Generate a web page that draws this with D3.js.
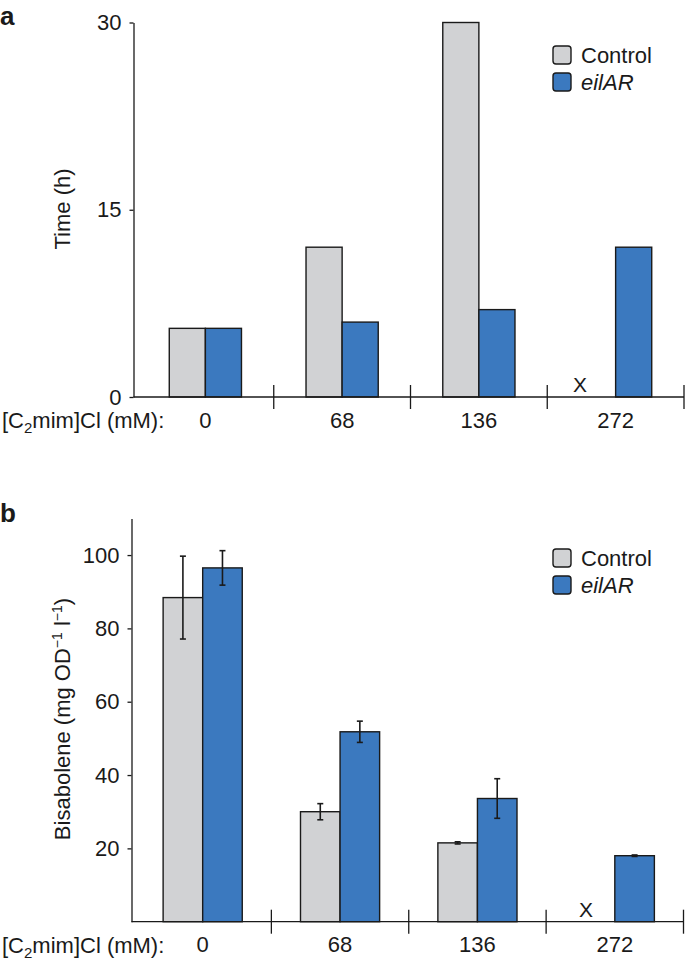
<!DOCTYPE html>
<html>
<head>
<meta charset="utf-8">
<script src="https://cdn.jsdelivr.net/npm/d3@7"></script>
<style>
  body { margin: 0; background: #fff; }
  svg text { font-family: "Liberation Sans", Arial, Helvetica, sans-serif; fill: #1a1a1a; }
</style>
</head>
<body>
<div id="chart"></div>
<script>
// categories and series
const concentrations = ["0", "68", "136", "272"];
const seriesNames = ["Control", "eilAR"];
const seriesColors = ["#d1d2d4", "#3b79bf"];

// panel a: time (h)
const timeControl = [5.5, 12, 30, null];
const timeEilAR = [5.5, 6, 7, 12];
const timeTicks = [0, 15, 30];

// panel b: bisabolene (mg OD-1 l-1) with error bars
const bisControl = [88.4, 30, 21.5, null];
const bisControlErr = [11.3, 2.2, 0.3, null];
const bisEilAR = [96.5, 51.8, 33.6, 18];
const bisEilARErr = [4.7, 2.9, 5.4, 0.2];
const bisTicks = [20, 40, 60, 80, 100];

const width = 685, height = 969;
const ink = "#1a1a1a";

const svg = d3.select("#chart")
  .append("svg")
    .attr("width", width)
    .attr("height", height);

function drawPanel(cfg) {
  const g = svg.append("g");

  const x = d3.scaleBand()
    .domain(concentrations)
    .range(cfg.xRange);
  const y = d3.scaleLinear()
    .domain(cfg.yDomain)
    .range(cfg.yRange);
  const bw = x.bandwidth();
  const barW = bw * cfg.barFrac;
  const xSub = d3.scaleBand()
    .domain(seriesNames)
    .range([bw / 2 - barW, bw / 2 + barW]);
  const color = d3.scaleOrdinal().domain(seriesNames).range(seriesColors);

  const rows = [];
  concentrations.forEach((c, i) => {
    rows.push({cat: c, key: "Control", value: cfg.control[i], err: cfg.controlErr ? cfg.controlErr[i] : null});
    rows.push({cat: c, key: "eilAR", value: cfg.eil[i], err: cfg.eilErr ? cfg.eilErr[i] : null});
  });
  const y0 = y(0);

  // bars
  g.append("g")
    .selectAll("rect")
    .data(rows.filter(d => d.value != null))
    .join("rect")
      .attr("x", d => x(d.cat) + xSub(d.key))
      .attr("y", d => y(d.value))
      .attr("width", xSub.bandwidth())
      .attr("height", d => y0 - y(d.value))
      .attr("fill", d => color(d.key))
      .attr("stroke", ink)
      .attr("stroke-width", 1.4);

  // error bars
  const errs = g.append("g")
    .selectAll("g")
    .data(rows.filter(d => d.value != null && d.err != null))
    .join("g")
      .attr("transform", d => `translate(${x(d.cat) + xSub(d.key) + xSub.bandwidth() / 2},0)`)
      .attr("stroke", ink)
      .attr("stroke-width", 1.6);
  errs.append("line")
    .attr("y1", d => y(d.value + d.err))
    .attr("y2", d => y(d.value - d.err));
  errs.append("line")
    .attr("x1", -3).attr("x2", 3)
    .attr("y1", d => y(d.value + d.err)).attr("y2", d => y(d.value + d.err));
  errs.append("line")
    .attr("x1", -3).attr("x2", 3)
    .attr("y1", d => y(d.value - d.err)).attr("y2", d => y(d.value - d.err));

  // missing value marker
  g.append("g")
    .selectAll("text")
    .data(rows.filter(d => d.value == null))
    .join("text")
      .attr("x", d => x(d.cat) + bw * cfg.xMarkFrac)
      .attr("y", y0 - 5)
      .attr("text-anchor", "middle")
      .attr("font-size", 21)
      .text("X");

  // y axis
  g.append("g")
    .attr("transform", `translate(${cfg.axisX},0)`)
    .call(d3.axisLeft(y).tickValues(cfg.ticks).tickSize(4).tickSizeOuter(0).tickPadding(8))
    .call(a => a.selectAll("text").attr("font-size", 22).attr("fill", ink).style("font-family", null))
    .call(a => a.selectAll("line, path").attr("stroke", ink).attr("stroke-width", 1.3));

  // x axis: labels at band centres, separators at band edges
  g.append("g")
    .attr("transform", `translate(0,${y0})`)
    .call(d3.axisBottom(x).tickSize(0).tickPadding(15))
    .call(a => a.select(".domain").remove())
    .call(a => a.selectAll("text").attr("font-size", 22).attr("fill", ink).style("font-family", null));
  g.append("line")
    .attr("x1", cfg.axisX).attr("x2", x.range()[1])
    .attr("y1", y0).attr("y2", y0)
    .attr("stroke", ink).attr("stroke-width", 1.3);
  g.append("g")
    .selectAll("line")
    .data(concentrations)
    .join("line")
      .attr("x1", d => x(d) + bw).attr("x2", d => x(d) + bw)
      .attr("y1", y0 - 12).attr("y2", y0 + 12)
      .attr("stroke", ink).attr("stroke-width", 1.3);

  const xt = g.append("text")
    .attr("x", 2)
    .attr("y", y0 + 31)
    .attr("font-size", 22);
  xt.append("tspan").text("[C");
  xt.append("tspan").attr("font-size", 15).attr("dy", 5).text("2");
  xt.append("tspan").attr("dy", -5).text("mim]Cl (mM):");

  // y title
  const yt = g.append("text")
    .attr("transform", `translate(${cfg.titleX},${cfg.titleY}) rotate(-90)`)
    .attr("text-anchor", "middle")
    .attr("font-size", 22);
  cfg.title(yt);

  // panel letter
  g.append("text")
    .attr("x", 0)
    .attr("y", cfg.letterY)
    .attr("font-size", 26)
    .attr("font-weight", "bold")
    .text(cfg.letter);

  // legend
  const leg = g.append("g")
    .selectAll("g")
    .data(seriesNames)
    .join("g")
      .attr("transform", (d, i) => `translate(553,${cfg.legendY + i * 27})`);
  leg.append("rect")
    .attr("width", 18).attr("height", 18)
    .attr("rx", 3)
    .attr("fill", d => color(d))
    .attr("stroke", ink).attr("stroke-width", 1.4);
  leg.append("text")
    .attr("x", 28)
    .attr("y", 17)
    .attr("font-size", 22)
    .attr("font-style", d => d === "eilAR" ? "italic" : "normal")
    .text(d => d);
}

drawPanel({
  letter: "a", letterY: 25,
  control: timeControl, eil: timeEilAR,
  yDomain: [0, 30], yRange: [397, 22.5], ticks: timeTicks,
  xRange: [137, 684], barFrac: 0.264, xMarkFrac: 0.24,
  axisX: 133.5, legendY: 46,
  titleX: 70, titleY: 209,
  title: t => t.text("Time (h)")
});

drawPanel({
  letter: "b", letterY: 522,
  control: bisControl, eil: bisEilAR,
  controlErr: bisControlErr, eilErr: bisEilARErr,
  yDomain: [0, 110], yRange: [921.7, 518.4], ticks: bisTicks,
  xRange: [134, 683.5], barFrac: 0.288, xMarkFrac: 0.29,
  axisX: 131.5, legendY: 549,
  titleX: 70, titleY: 719,
  title: t => {
    t.append("tspan").text("Bisabolene (mg OD");
    t.append("tspan").attr("font-size", 14).attr("dy", -8).text("\u22121");
    t.append("tspan").attr("dy", 8).text(" l");
    t.append("tspan").attr("font-size", 14).attr("dy", -8).text("\u22121");
    t.append("tspan").attr("dy", 8).text(")");
  }
});
</script>
</body>
</html>
